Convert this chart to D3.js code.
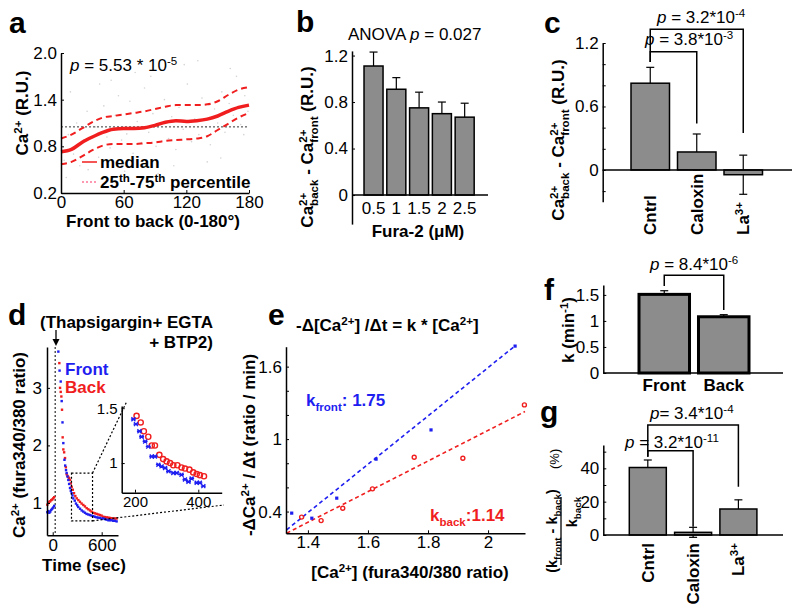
<!DOCTYPE html>
<html><head><meta charset="utf-8">
<script src="https://cdn.jsdelivr.net/npm/d3@7"></script>
<style>body{margin:0;background:#fff}svg{display:block}text{font-family:"Liberation Sans",Arial,sans-serif}</style>
</head><body><svg id="chart" width="800" height="613"></svg>
<script>
// ================= DATA =================
// Panel a
const aAngle  = [0,10,20,30,40,50,60,70,80,90,100,110,120,130,140,150,160,170,180];
const aMedian = [0.73,0.76,0.85,0.92,0.98,1.02,1.03,1.03,1.04,1.07,1.11,1.13,1.12,1.13,1.15,1.19,1.25,1.30,1.33];
const aP75    = [0.90,0.95,1.03,1.11,1.17,1.19,1.21,1.23,1.25,1.28,1.31,1.33,1.33,1.33,1.34,1.38,1.46,1.53,1.56];
const aP25    = [0.57,0.60,0.67,0.75,0.81,0.83,0.83,0.83,0.84,0.85,0.87,0.88,0.89,0.90,0.93,1.01,1.09,1.17,1.23];
const aRefLine = 1.05;
const aDotAng = [3,7,12,15,18,22,25,28,33,36,41,44,47,52,55,58,63,66,69,73,77,80,84,88,91,95,99,103,106,110,113,117,121,125,128,132,135,139,143,147,150,154,157,161,165,168,172,176,179,5,26,48,71,93,118,140,162,9,37,61,86,108,131,153,175];
const aDotVal = [0.62,0.95,0.70,1.10,0.55,0.88,1.25,0.74,1.05,0.66,1.32,0.92,0.78,1.20,1.45,0.88,0.96,1.38,0.71,1.12,0.85,1.55,0.98,1.22,0.80,1.08,1.40,0.90,1.18,0.76,1.30,1.02,1.60,0.86,1.15,0.95,1.42,1.05,0.82,1.28,1.10,1.50,0.98,1.35,1.20,1.70,1.08,1.45,1.25,0.40,0.50,1.65,1.75,0.45,1.85,0.60,1.80,1.50,1.60,0.48,1.70,0.55,1.90,0.65,0.95];
const aXTicks = [0,60,120,180];
const aYTicks = [0.2,0.8,1.4,2.0];
// Panel b
const bCats  = ['0.5','1','1.5','2','2.5'];
const bMeans = [1.11,0.91,0.75,0.70,0.67];
const bErr   = [0.12,0.10,0.135,0.10,0.12];
const bYTicks = [0,0.4,0.8,1.2];
// Panel c
const cCats  = ['Cntrl','Caloxin','La'];
const cMeans = [0.82,0.17,-0.045];
const cErr   = [0.15,0.17,0.185];
const cYTicks = [-0.2,0,0.2,0.4,0.6,0.8,1.0,1.2];
const cYLabels = [0,0.6,1.2];
// Panel d (main trace)
const dPreT      = [-66,-54,-42,-30,-18,-6,6,18];
const dFrontPre  = [0.84,0.86,0.83,0.85,0.88,0.90,0.92,0.95];
const dBackPre   = [0.97,1.00,1.02,1.03,1.05,1.06,1.08,1.10];
const dFrontT = [69,84,98,110,120,130,144,153,163,171,181,191,201,212,222,232,242,252,270,285,300,313,335,355,375,395,415,436,456,477,497,518,538,558,579,600,620,640,660,681,701,722,742,763,783];
const dFrontV = [3.63,3.30,3.11,2.77,2.40,2.04,1.75,1.65,1.57,1.52,1.46,1.40,1.33,1.26,1.21,1.17,1.13,1.08,1.04,0.99,0.96,0.93,0.90,0.87,0.85,0.83,0.81,0.80,0.79,0.78,0.77,0.76,0.75,0.745,0.74,0.73,0.73,0.72,0.71,0.70,0.70,0.70,0.69,0.69,0.68];
const dBackT = [81,90,98,106,114,122,130,140,151,161,171,181,191,201,212,222,232,246,261,277,294,314,334,354,375,395,416,436,457,477,497,518,539,559,579,599,619,640,661,681,701,722,742,763,783];
const dBackV = [3.43,3.00,2.93,2.85,2.62,2.14,1.93,1.88,1.78,1.62,1.50,1.47,1.45,1.43,1.40,1.34,1.28,1.23,1.17,1.12,1.08,1.05,1.02,0.99,0.965,0.94,0.91,0.89,0.87,0.85,0.83,0.82,0.81,0.80,0.79,0.78,0.76,0.755,0.75,0.745,0.74,0.735,0.73,0.73,0.73];
const dDrugT = 30;
const dBoxT = [230,488], dBoxV = [0.69,1.52];
const dYTicks = [1,2,3];
// Panel d inset
const dInFrontT = [195,203,214,221,232,242,253,263,274,284,295,306,321,332,347,358,369,379,395,405,416];
const dInFrontV = [1.40,1.355,1.29,1.24,1.197,1.15,1.06,1.06,0.985,0.97,0.955,0.925,0.91,0.91,0.894,0.85,0.83,0.86,0.82,0.82,0.79];
const dInBackT = [205,218,228,242,253,263,277,289,300,311,321,334,347,358,372,384,395,405,418];
const dInBackV = [1.43,1.37,1.29,1.24,1.16,1.16,1.075,1.036,1.015,1.0,0.98,0.98,0.96,0.95,0.94,0.915,0.90,0.89,0.88];
// Panel e
const eFrontX = [1.346,1.413,1.496,1.627,1.810,2.090];
const eFrontY = [0.387,0.345,0.511,0.834,1.076,1.770];
const eBackX  = [1.379,1.444,1.516,1.615,1.754,1.916,2.121];
const eBackY  = [0.354,0.325,0.428,0.588,0.850,0.842,1.283];
const eFitFront = [[1.329,0.249],[2.090,1.772]];
const eFitBack  = [[1.329,0.221],[2.123,1.228]];
const eXTicks = [1.4,1.6,1.8,2];
const eYTicks = [0.4,0.6,0.8,1.0,1.2,1.4,1.6];
const eYLabels = [0.4,1,1.6];
// Panel f
const fCats  = ['Front','Back'];
const fMeans = [1.51,1.08];
const fErr   = [0.07,0.04];
const fYTicks = [0,0.5,1,1.5];
// Panel g
const gCats  = ['Cntrl','Caloxin','La'];
const gMeans = [40.5,1.6,15.6];
const gErr   = [4.5,3.0,5.5];
const gYTicks = [0,10,20,30,40,50];
const gYLabels = [0,20,40];

// ================= HELPERS =================
const FONT = '"Liberation Sans", Arial, sans-serif';
const RED = '#f01e1e', BLUE = '#1e1ef0', GREY = '#8c8c8c', PINK = '#ff3366';
const svg = d3.select('#chart');
svg.append('rect').attr('width',800).attr('height',613).attr('fill','#fff');

function rich(parent, x, y, parts, o) {
  o = o || {};
  const size = o.size || 17;
  const t = parent.append('text').attr('x', x).attr('y', y)
    .attr('font-size', size).attr('font-family', FONT)
    .attr('font-weight', o.bold ? 'bold' : 'normal')
    .attr('fill', o.fill || '#000')
    .attr('text-anchor', o.anchor || 'start');
  if (o.transform) t.attr('transform', o.transform);
  let off = 0, supLen = 0;
  parts.forEach(p => {
    if (typeof p === 'string') p = {t: p};
    const target = p.sup ? -0.38 * size : p.sub ? 0.3 * size : 0;
    const ts = t.append('tspan').attr('dy', target - off).text(p.t);
    if (p.sup || p.sub) ts.attr('font-size', size * 0.68);
    if (p.it) ts.attr('font-style', 'italic');
    if (p.stack && supLen) ts.attr('dx', -supLen);
    if (p.sup) supLen = ts.node().getComputedTextLength();
    off = target;
  });
  return t;
}
function styleAxis(g, size) {
  g.attr('font-family', FONT).attr('font-size', size || 17);
  g.selectAll('path.domain').attr('stroke', '#000').attr('stroke-width', 1.5);
  g.selectAll('.tick line').attr('stroke', '#000').attr('stroke-width', 1);
  g.selectAll('.tick text').attr('fill', '#000');
}
const num = v => String(+v.toFixed(2));
function only(labels) { return v => labels.some(l => Math.abs(l - v) < 1e-9) ? num(v) : ''; }
function letter(x, y, s) {
  svg.append('text').attr('x', x).attr('y', y).attr('font-size', 30).attr('font-weight', 'bold')
    .attr('font-family', FONT).text(s);
}
function barChart(g, x, y, cats, means, errs, sw) {
  cats.forEach((c, i) => {
    const cx = x(c) + x.bandwidth() / 2;
    const lo = y(means[i] - errs[i]), hi = y(means[i] + errs[i]);
    g.append('line').attr('x1', cx).attr('x2', cx).attr('y1', lo).attr('y2', hi).attr('stroke', '#000').attr('stroke-width', 1.2);
    [lo, hi].forEach(yy => g.append('line').attr('x1', cx - 4).attr('x2', cx + 4).attr('y1', yy).attr('y2', yy).attr('stroke', '#000').attr('stroke-width', 1.2));
  });
  g.selectAll(null).data(cats).join('rect')
    .attr('x', d => x(d)).attr('width', x.bandwidth())
    .attr('y', (d, i) => Math.min(y(means[i]), y(0)))
    .attr('height', (d, i) => Math.abs(y(means[i]) - y(0)))
    .attr('fill', GREY).attr('stroke', '#000').attr('stroke-width', sw || 1.5);
}
function bracket(g, x1, x2, yTop, yL, yR) {
  g.append('path').attr('d', `M${x1},${yL}V${yTop}H${x2}V${yR}`)
    .attr('fill', 'none').attr('stroke', '#000').attr('stroke-width', 1.5);
}

// ================= PANEL a =================
{
  const g = svg.append('g');
  const x = d3.scaleLinear().domain([0, 180]).range([61, 249]);
  const y = d3.scaleLinear().domain([0.2, 2.0]).range([193, 53]);
  g.selectAll(null).data(aDotAng.slice(0, Math.min(aDotAng.length, aDotVal.length))).join('circle')
    .attr('cx', d => x(d)).attr('cy', (d, i) => y(aDotVal[i])).attr('r', 0.8).attr('fill', '#d4d4d4');
  g.append('line').attr('x1', x(0)).attr('x2', x(180)).attr('y1', y(aRefLine)).attr('y2', y(aRefLine))
    .attr('stroke', '#000').attr('stroke-width', 0.8).attr('stroke-dasharray', '2,2');
  const line = vals => d3.line().x((d, i) => x(aAngle[i])).y(d => y(d)).curve(d3.curveMonotoneX)(vals);
  [aP75, aP25].forEach(v => g.append('path').attr('d', line(v)).attr('fill', 'none')
    .attr('stroke', RED).attr('stroke-width', 2).attr('stroke-dasharray', '6,4'));
  g.append('path').attr('d', line(aMedian)).attr('fill', 'none').attr('stroke', RED).attr('stroke-width', 3.5);
  const xa = g.append('g').attr('transform', `translate(0,${y(0.2)})`)
    .call(d3.axisBottom(x).tickValues(aXTicks).tickFormat(num).tickSizeInner(-3).tickSizeOuter(0).tickPadding(3));
  styleAxis(xa);
  const ya = g.append('g').attr('transform', `translate(${x(0)},0)`)
    .call(d3.axisLeft(y).tickValues(aYTicks).tickFormat(d3.format('.1f')).tickSizeInner(-3).tickSizeOuter(0).tickPadding(4));
  styleAxis(ya);
  rich(g, 70, 71, [{t: 'p', it: true}, ' = 5.53 * 10', {t: '-5', sup: true}], {size: 17});
  g.append('line').attr('x1', 82).attr('x2', 97).attr('y1', 162).attr('y2', 162).attr('stroke', RED).attr('stroke-width', 1.5);
  rich(g, 100, 168, ['median'], {bold: true});
  g.append('line').attr('x1', 82).attr('x2', 97).attr('y1', 182).attr('y2', 182).attr('stroke', PINK).attr('stroke-width', 1.2).attr('stroke-dasharray', '2,2');
  rich(g, 100, 188, ['25', {t: 'th', sup: true}, '-75', {t: 'th', sup: true}, ' percentile'], {bold: true});
  rich(g, 0, 0, ['Ca', {t: '2+', sup: true}, ' (R.U.)'], {bold: true, anchor: 'middle', transform: 'translate(28,113) rotate(-90)'});
  rich(g, 153, 227, ['Front to back (0-180°)'], {bold: true, anchor: 'middle'});
  letter(9, 33, 'a');
}

// ================= PANEL b =================
{
  const g = svg.append('g');
  const x = d3.scaleBand().domain(bCats).range([362.2, 476]).paddingInner(0.165).paddingOuter(0.08);
  const y = d3.scaleLinear().domain([-0.25, 1.24]).range([224.1, 50.9]);
  barChart(g, x, y, bCats, bMeans, bErr, 1.5);
  g.append('line').attr('x1', 352).attr('x2', 488).attr('y1', y(0)).attr('y2', y(0)).attr('stroke', '#000').attr('stroke-width', 1.5);
  const ya = g.append('g').attr('transform', 'translate(352,0)')
    .call(d3.axisLeft(y).tickValues(bYTicks).tickFormat(d => d === 0 ? '0' : d3.format('.1f')(d)).tickSizeInner(-3).tickSizeOuter(0).tickPadding(4));
  styleAxis(ya);
  g.selectAll(null).data(bCats).join('text')
    .attr('x', d => x(d) + x.bandwidth() / 2).attr('y', 214).attr('text-anchor', 'middle')
    .attr('font-size', 17).attr('font-family', FONT).text(d => d);
  rich(g, 348, 40, ['ANOVA ', {t: 'p', it: true}, ' = 0.027'], {size: 17});
  rich(g, 418, 237, ['Fura-2 (μM)'], {bold: true, anchor: 'middle'});
  rich(g, 0, 0, ['Ca', {t: '2+', sup: true}, {t: 'back', sub: true, stack: true}, ' - Ca', {t: '2+', sup: true}, {t: 'front', sub: true, stack: true}, ' (R.U.)'],
    {bold: true, anchor: 'middle', transform: 'translate(313,147) rotate(-90)'});
  letter(296, 32, 'b');
}

// ================= PANEL c =================
{
  const g = svg.append('g');
  const x = d3.scaleBand().domain(cCats).range([631, 762.5]).paddingInner(0.172).paddingOuter(0);
  const y = d3.scaleLinear().domain([-0.3, 1.2]).range([201.7, 43]);
  barChart(g, x, y, cCats, cMeans, cErr, 1.5);
  g.append('line').attr('x1', 602.7).attr('x2', 792).attr('y1', y(0)).attr('y2', y(0)).attr('stroke', '#000').attr('stroke-width', 1.5);
  const ya = g.append('g').attr('transform', 'translate(602.7,0)')
    .call(d3.axisLeft(y).tickValues(cYTicks).tickFormat(only(cYLabels)).tickSizeInner(-3).tickSizeOuter(0).tickPadding(4));
  styleAxis(ya);
  const cx = c => x(c) + x.bandwidth() / 2;
  bracket(g, cx('Cntrl'), cx('Caloxin'), y(1.118), y(1.02), y(0.44));
  bracket(g, cx('Cntrl'), cx('La'), y(1.33), y(1.02), y(0.35));
  rich(g, 645, 45, [{t: 'p', it: true}, ' = 3.8*10', {t: '-3', sup: true}], {size: 17});
  rich(g, 657, 23, [{t: 'p', it: true}, ' = 3.2*10', {t: '-4', sup: true}], {size: 17});
  cCats.forEach(c => {
    const parts = c === 'La' ? ['La', {t: '3+', sup: true}] : [c];
    rich(g, 0, 0, parts, {bold: true, transform: `translate(${cx(c) + 6},235) rotate(-90)`});
  });
  rich(g, 0, 0, ['Ca', {t: '2+', sup: true}, {t: 'back', sub: true, stack: true}, ' - Ca', {t: '2+', sup: true}, {t: 'front', sub: true, stack: true}, ' (R.U.)'],
    {bold: true, anchor: 'middle', transform: 'translate(564,140) rotate(-90)'});
  letter(544, 33, 'c');
}

// ================= PANEL d =================
{
  const g = svg.append('g');
  const x = d3.scaleLinear().domain([-70, 800]).range([47, 118]);
  const y = d3.scaleLinear().domain([0.44, 3.71]).range([535.2, 347]);
  g.append('line').attr('x1', x(dDrugT)).attr('x2', x(dDrugT)).attr('y1', 347).attr('y2', 535)
    .attr('stroke', '#000').attr('stroke-width', 1).attr('stroke-dasharray', '2,2');
  const dot = (ts, vs, col) => g.selectAll(null).data(ts).join('rect')
    .attr('x', d => x(d) - 1.2).attr('y', (d, i) => y(vs[i]) - 1.2).attr('width', 2.4).attr('height', 2.4).attr('fill', col);
  dot(dPreT, dBackPre, RED); dot(dPreT, dFrontPre, BLUE);
  dot(dBackT, dBackV, RED); dot(dFrontT, dFrontV, BLUE);
  g.append('rect').attr('x', x(dBoxT[0])).attr('y', y(dBoxV[1])).attr('width', x(dBoxT[1]) - x(dBoxT[0])).attr('height', y(dBoxV[0]) - y(dBoxV[1]))
    .attr('fill', 'none').attr('stroke', '#000').attr('stroke-width', 1.2).attr('stroke-dasharray', '2,2');
  g.append('line').attr('x1', x(dBoxT[1])).attr('y1', y(dBoxV[1])).attr('x2', 127).attr('y2', 401)
    .attr('stroke', '#000').attr('stroke-width', 1.2).attr('stroke-dasharray', '2,2');
  g.append('line').attr('x1', x(dBoxT[1])).attr('y1', y(dBoxV[0])).attr('x2', 224).attr('y2', 505)
    .attr('stroke', '#000').attr('stroke-width', 1.2).attr('stroke-dasharray', '2,2');
  const xa = g.append('g').attr('transform', 'translate(0,535.2)')
    .call(d3.axisBottom(x).tickValues([0, 600]).tickFormat(num).tickSizeInner(-3).tickSizeOuter(0).tickPadding(4));
  styleAxis(xa);
  const ya = g.append('g').attr('transform', 'translate(47,0)')
    .call(d3.axisLeft(y).tickValues(dYTicks).tickFormat(num).tickSizeInner(-3).tickSizeOuter(0).tickPadding(5));
  styleAxis(ya);
  const ix = d3.scaleLinear().domain([158, 474]).range([121.7, 221.7]);
  const iy = d3.scaleLinear().domain([0.73, 1.52]).range([492.7, 406]);
  g.selectAll(null).data(dInBackT).join('circle').attr('cx', d => ix(d)).attr('cy', (d, i) => iy(dInBackV[i]))
    .attr('r', 2.6).attr('fill', 'none').attr('stroke', RED).attr('stroke-width', 1.4);
  g.selectAll(null).data(dInFrontT).join('path')
    .attr('transform', (d, i) => `translate(${ix(d)},${iy(dInFrontV[i])})`)
    .attr('d', 'M-2,-2L2,2M-2,2L2,-2M-2.5,0H2.5').attr('stroke', BLUE).attr('stroke-width', 1.3);
  const ixa = g.append('g').attr('transform', 'translate(0,492.7)')
    .call(d3.axisBottom(ix).tickValues([200, 400]).tickFormat(num).tickSizeInner(-3).tickSizeOuter(0).tickPadding(4));
  styleAxis(ixa, 15);
  const iya = g.append('g').attr('transform', 'translate(121.7,0)')
    .call(d3.axisLeft(iy).tickValues([1, 1.5]).tickFormat(num).tickSizeInner(-3).tickSizeOuter(0).tickPadding(4));
  styleAxis(iya, 15);
  g.append('line').attr('x1', 56).attr('x2', 56).attr('y1', 330).attr('y2', 341).attr('stroke', '#000').attr('stroke-width', 1.3);
  g.append('path').attr('d', 'M52.5,339L56,346L59.5,339Z').attr('fill', '#000');
  rich(g, 213, 328, ['(Thapsigargin+ EGTA'], {bold: true, anchor: 'end'});
  rich(g, 213, 348, ['+ BTP2)'], {bold: true, anchor: 'end'});
  rich(g, 65, 375, ['Front'], {bold: true, fill: BLUE});
  rich(g, 65, 393, ['Back'], {bold: true, fill: RED});
  rich(g, 0, 0, ['Ca', {t: '2+', sup: true}, ' (fura340/380 ratio)'], {bold: true, anchor: 'middle', transform: 'translate(25,445) rotate(-90)'});
  rich(g, 84, 571, ['Time (sec)'], {bold: true, anchor: 'middle'});
  letter(8, 325, 'd');
}

// ================= PANEL e =================
{
  const g = svg.append('g');
  const x = d3.scaleLinear().domain([1.327, 2.123]).range([286, 525]);
  const y = d3.scaleLinear().domain([0.22, 1.765]).range([533.3, 346.7]);
  const ln = d3.line().x(d => x(d[0])).y(d => y(d[1]));
  g.append('path').attr('d', ln(eFitFront)).attr('stroke', BLUE).attr('stroke-width', 1.6).attr('stroke-dasharray', '4,3').attr('fill', 'none');
  g.append('path').attr('d', ln(eFitBack)).attr('stroke', RED).attr('stroke-width', 1.6).attr('stroke-dasharray', '4,3').attr('fill', 'none');
  g.selectAll(null).data(eFrontX).join('rect').attr('x', d => x(d) - 1.6).attr('y', (d, i) => y(eFrontY[i]) - 1.6)
    .attr('width', 3.2).attr('height', 3.2).attr('fill', BLUE);
  g.selectAll(null).data(eBackX).join('circle').attr('cx', d => x(d)).attr('cy', (d, i) => y(eBackY[i]))
    .attr('r', 2).attr('fill', 'none').attr('stroke', RED).attr('stroke-width', 1.4);
  const xa = g.append('g').attr('transform', 'translate(0,533.3)')
    .call(d3.axisBottom(x).tickValues(eXTicks).tickFormat(num).tickSizeInner(-3).tickSizeOuter(0).tickPadding(3));
  styleAxis(xa);
  const ya = g.append('g').attr('transform', 'translate(286,0)')
    .call(d3.axisLeft(y).tickValues(eYTicks).tickFormat(only(eYLabels)).tickSizeInner(-3).tickSizeOuter(0).tickPadding(4));
  styleAxis(ya);
  rich(g, 296, 331, ['-Δ[Ca', {t: '2+', sup: true}, '] /Δt = k * [Ca', {t: '2+', sup: true}, ']'], {bold: true});
  rich(g, 306, 406, ['k', {t: 'front', sub: true}, ': 1.75'], {bold: true, fill: BLUE});
  rich(g, 430, 521, ['k', {t: 'back', sub: true}, ':1.14'], {bold: true, fill: RED});
  rich(g, 0, 0, ['-ΔCa', {t: '2+', sup: true}, ' / Δt (ratio / min)'], {bold: true, anchor: 'middle', transform: 'translate(255,445) rotate(-90)'});
  rich(g, 410, 578, ['[Ca', {t: '2+', sup: true}, '] (fura340/380 ratio)'], {bold: true, anchor: 'middle'});
  letter(268, 325, 'e');
}

// ================= PANEL f =================
{
  const g = svg.append('g');
  const x = d3.scaleBand().domain(fCats).range([639, 749]).paddingInner(0.151).paddingOuter(0);
  const y = d3.scaleLinear().domain([0, 1.69]).range([373, 285]);
  barChart(g, x, y, fCats, fMeans, fErr, 3);
  const ya = g.append('g').attr('transform', 'translate(603.3,0)')
    .call(d3.axisLeft(y).tickValues(fYTicks).tickFormat(num).tickSizeInner(-3).tickSizeOuter(0).tickPadding(4));
  styleAxis(ya);
  g.append('line').attr('x1', 603.3).attr('x2', 783).attr('y1', y(0)).attr('y2', y(0)).attr('stroke', '#000').attr('stroke-width', 1.5);
  const cx = c => x(c) + x.bandwidth() / 2;
  bracket(g, cx('Front'), cx('Back'), y(1.875), y(1.67), y(1.21));
  rich(g, 650, 270, [{t: 'p', it: true}, ' = 8.4*10', {t: '-6', sup: true}], {size: 17});
  g.selectAll(null).data(fCats).join('text').attr('x', d => cx(d)).attr('y', 391).attr('text-anchor', 'middle')
    .attr('font-size', 17).attr('font-weight', 'bold').attr('font-family', FONT).text(d => d);
  rich(g, 0, 0, ['k (min', {t: '-1', sup: true}, ')'], {bold: true, anchor: 'middle', transform: 'translate(574,330) rotate(-90)'});
  letter(544, 300, 'f');
}

// ================= PANEL g =================
{
  const g = svg.append('g');
  const x = d3.scaleBand().domain(gCats).range([629.3, 756.9]).paddingInner(0.183).paddingOuter(0);
  const y = d3.scaleLinear().domain([0, 54]).range([535, 445]);
  barChart(g, x, y, gCats, gMeans, gErr, 1.5);
  g.append('line').attr('x1', 603.3).attr('x2', 783).attr('y1', y(0)).attr('y2', y(0)).attr('stroke', '#000').attr('stroke-width', 1.5);
  const ya = g.append('g').attr('transform', 'translate(603.3,0)')
    .call(d3.axisLeft(y).tickValues(gYTicks).tickFormat(only(gYLabels)).tickSizeInner(-3).tickSizeOuter(0).tickPadding(4));
  styleAxis(ya);
  const cx = c => x(c) + x.bandwidth() / 2;
  bracket(g, cx('Cntrl'), cx('Caloxin'), y(50.6), y(47), y(5));
  bracket(g, cx('Cntrl'), cx('La'), y(66), y(47), y(29));
  rich(g, 625, 448, [{t: 'p', it: true}, ' = 3.2*10', {t: '-11', sup: true}], {size: 17});
  rich(g, 650, 419, [{t: 'p', it: true}, '= 3.4*10', {t: '-4', sup: true}], {size: 17});
  gCats.forEach(c => {
    const parts = c === 'La' ? ['La', {t: '3+', sup: true}] : [c];
    rich(g, 0, 0, parts, {bold: true, anchor: 'end', transform: `translate(${cx(c) + 6},543) rotate(-90)`});
  });
  const fl = g.append('g').attr('transform', 'translate(561,531) rotate(-90)');
  rich(fl, 0, -4, ['(k', {t: 'front', sub: true}, ' - k', {t: 'back', sub: true}, ')'], {bold: true, anchor: 'middle', size: 14.5});
  fl.append('line').attr('x1', -34).attr('x2', 34).attr('y1', 0).attr('y2', 0).attr('stroke', '#000').attr('stroke-width', 1.3);
  rich(fl, 19, 16, ['k', {t: 'back', sub: true}], {bold: true, anchor: 'middle', size: 14.5});
  rich(fl, 62, -2, ['(%)'], {size: 13});
  letter(540, 422, 'g');
}
</script></body></html>
